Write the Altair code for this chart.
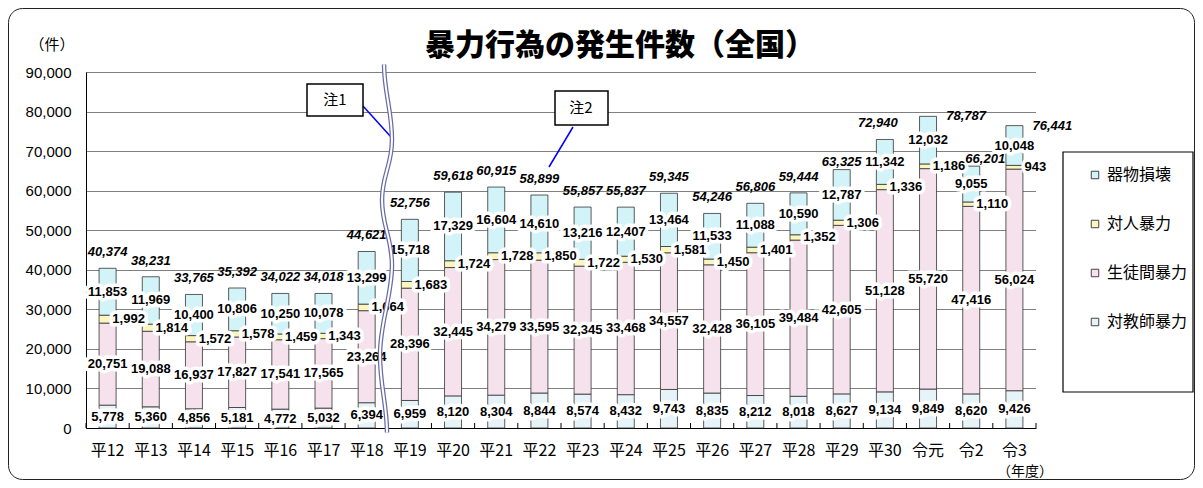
import altair as alt
import pandas as pd

years = ["平12", "平13", "平14", "平15", "平16", "平17", "平18", "平19", "平20", "平21", "平22",
         "平23", "平24", "平25", "平26", "平27", "平28", "平29", "平30", "令元", "令2", "令3"]
categories = ["器物損壊", "対人暴力", "生徒間暴力", "対教師暴力"]
cat_colors = ["#d2f3f8", "#fbf6bd", "#f5e2ec", "#e6f4fa"]
stack_rank = {"対教師暴力": 0, "生徒間暴力": 1, "対人暴力": 2, "器物損壊": 3}

teacher = [5778, 5360, 4856, 5181, 4772, 5032, 6394, 6959, 8120, 8304, 8844,
           8574, 8432, 9743, 8835, 8212, 8018, 8627, 9134, 9849, 8620, 9426]
student = [20751, 19088, 16937, 17827, 17541, 17565, 23264, 28396, 32445, 34279, 33595,
           32345, 33468, 34557, 32428, 36105, 39484, 42605, 51128, 55720, 47416, 56024]
person = [1992, 1814, 1572, 1578, 1459, 1343, 1664, 1683, 1724, 1728, 1850,
          1722, 1530, 1581, 1450, 1401, 1352, 1306, 1336, 1186, 1110, 943]
prop = [11853, 11969, 10400, 10806, 10250, 10078, 13299, 15718, 17329, 16604, 14610,
        13216, 12407, 13464, 11533, 11088, 10590, 12787, 11342, 12032, 9055, 10048]
totals = [40374, 38231, 33765, 35392, 34022, 34018, 44621, 52756, 59618, 60915, 58899,
          55857, 55837, 59345, 54246, 56806, 59444, 63325, 72940, 78787, 66201, 76441]
y_max = 90000

series = {"対教師暴力": teacher, "生徒間暴力": student, "対人暴力": person, "器物損壊": prop}
rows = []
for cat, vals in series.items():
    for yr, v in zip(years, vals):
        rows.append({"year": yr, "cat": cat, "value": v, "ord": stack_rank[cat]})
df = pd.DataFrame(rows)
df_tot = pd.DataFrame({"year": years, "total": totals})

JP = "Noto Sans CJK JP"
NUM = "Liberation Sans, Arial"
W, H = 950, 356

xaxis = alt.Axis(labelAngle=0, labelFont=JP, labelFontSize=16, labelColor="#000",
                 labelPadding=14, ticks=False, domainColor="#000", domainWidth=1,
                 grid=False, title=None)
yaxis = alt.Axis(tickCount=9, labelExpr="format(datum.value, ',')", labelFont="Liberation Sans",
                 labelFontSize=15, labelColor="#000", labelPadding=15, ticks=False,
                 domainColor="#000", domainWidth=1, grid=True, gridColor="#000",
                 gridDash=[1, 1], gridWidth=1, title=None)
xscale = alt.Scale(paddingInner=0, paddingOuter=0)
yscale = alt.Scale(domain=[0, y_max], nice=False)

xenc = alt.X("year:N", sort=years, scale=xscale, axis=xaxis)

bars = alt.Chart(df).mark_bar(size=17, stroke="#333", strokeWidth=0.8).encode(
    x=xenc,
    y=alt.Y("value:Q", stack="zero", scale=yscale, axis=yaxis),
    color=alt.Color("cat:N", scale=alt.Scale(domain=categories, range=cat_colors),
                    legend=alt.Legend(title=None, orient="none", legendX=1001, legendY=95,
                                      symbolType="square", symbolSize=56,
                                      symbolStrokeColor="#444", symbolStrokeWidth=1,
                                      symbolOpacity=1, labelFont=JP, labelFontSize=16,
                                      labelColor="#000", labelOffset=4, rowPadding=33,
                                      padding=0)),
    order=alt.Order("ord:Q", sort="ascending"),
)

xticks = alt.Chart(df_tot).mark_rule(color="#000", strokeWidth=1).encode(
    x=alt.X("year:N", sort=years, bandPosition=0, scale=xscale, axis=xaxis),
    y=alt.value(H - 5), y2=alt.value(H))

stacked = alt.Chart(df).transform_stack(
    stack="value", groupby=["year"], sort=[alt.SortField("ord", order="ascending")],
    as_=["v0", "v1"]).transform_calculate(mid="(datum.v0 + datum.v1) / 2")


def labels(src, yfield, tfield, dx=0, dy=0, italic=False, halo=True):
    enc = dict(x=xenc, y=alt.Y(f"{yfield}:Q", scale=yscale, axis=yaxis),
               text=alt.Text(f"{tfield}:Q", format=","))
    style = dict(font=NUM, fontSize=13, fontWeight="bold", dx=dx, dy=dy,
                 fontStyle="italic" if italic else "normal", baseline="middle")
    out = []
    if halo:
        out.append(src.mark_text(fill="white", stroke="white", strokeWidth=7,
                                 strokeJoin="round", **style).encode(**enc))
    out.append(src.mark_text(color="#000", **style).encode(**enc))
    return out


center_src = stacked.transform_filter("datum.cat != '対人暴力'")
side_src = stacked.transform_filter("datum.cat == '対人暴力'")
lab_layers = labels(center_src, "mid", "value") + labels(side_src, "mid", "value", dx=21)

tot = alt.Chart(df_tot)
tot_main = tot.transform_filter("indexof(['平30','令元','令2','令3'], datum.year) < 0")
tot_layers = (labels(tot_main, "total", "total", dy=-16, italic=True, halo=False)
              + labels(tot.transform_filter("datum.year == '平30'"), "total", "total", dx=-7, dy=-16, italic=True, halo=False)
              + labels(tot.transform_filter("datum.year == '令元' || datum.year == '令3'"), "total", "total", dx=38, dy=0, italic=True, halo=False)
              + labels(tot.transform_filter("datum.year == '令2'"), "total", "total", dx=14, dy=-7, italic=True, halo=False))

ann = alt.Chart(pd.DataFrame({"k": [0]}))
frame = ann.mark_rect(fill="white", fillOpacity=0, stroke="#222", strokeWidth=1, cornerRadius=14).encode(
    x=alt.value(-77.5), x2=alt.value(1108.5), y=alt.value(-63.5), y2=alt.value(407.5))
legend_box = ann.mark_rect(fill="white", fillOpacity=0, stroke="#000", strokeWidth=1.2).encode(
    x=alt.value(977), x2=alt.value(1107), y=alt.value(80), y2=alt.value(320))
note1_box = ann.mark_rect(fill="white", stroke="#000", strokeWidth=1.5).encode(
    x=alt.value(221), x2=alt.value(277), y=alt.value(12), y2=alt.value(44))
note2_box = ann.mark_rect(fill="white", stroke="#000", strokeWidth=1.5).encode(
    x=alt.value(469), x2=alt.value(522), y=alt.value(19), y2=alt.value(53))
note1_line = ann.mark_rule(color="#0000ff", strokeWidth=1.5).encode(
    x=alt.value(277), x2=alt.value(305), y=alt.value(34), y2=alt.value(65))
note2_line = ann.mark_rule(color="#0000ff", strokeWidth=1.5).encode(
    x=alt.value(487), x2=alt.value(463), y=alt.value(55), y2=alt.value(95))
note1_txt = ann.mark_text(text="注1", font=JP, fontSize=15, color="#000").encode(
    x=alt.value(249), y=alt.value(28))
note2_txt = ann.mark_text(text="注2", font=JP, fontSize=15, color="#000").encode(
    x=alt.value(495), y=alt.value(36))
end_tick = ann.mark_rule(color="#000").encode(x=alt.value(W), y=alt.value(H - 5), y2=alt.value(H))

wave_path = ("M-0.016,-1 C-0.016,-0.85 0.027,-0.75 0.027,-0.59 "
             "C0.027,-0.45 -0.027,-0.40 -0.027,-0.264 "
             "C-0.027,-0.12 0.027,-0.06 0.027,0.09 "
             "C0.027,0.26 -0.038,0.40 -0.038,0.579 "
             "C-0.038,0.75 0,0.85 0,1")
wave_outer = ann.mark_point(shape=wave_path, size=368 * 368, filled=False, opacity=1,
                            stroke="#6a6aa8", strokeWidth=4.5).encode(
    x=alt.value(301), y=alt.value(176.5))
wave_inner = ann.mark_point(shape=wave_path, size=368 * 368, filled=False, opacity=1,
                            stroke="#ffffff", strokeWidth=2).encode(
    x=alt.value(301), y=alt.value(176.5))

title = ann.mark_text(text="暴力行為の発生件数（全国）", font=JP, fontSize=30, fontWeight=900,
                      color="#000").encode(x=alt.value(534), y=alt.value(-26))
unit = ann.mark_text(text="（件）", font=JP, fontSize=15, color="#000").encode(
    x=alt.value(-34), y=alt.value(-27))
year_unit = ann.mark_text(text="（年度）", font=JP, fontSize=14, color="#000").encode(
    x=alt.value(939), y=alt.value(400))

chart = alt.layer(
    frame, bars, xticks, end_tick, *lab_layers, *tot_layers,
    note1_line, note2_line, note1_box, note2_box, note1_txt, note2_txt,
    wave_outer, wave_inner, legend_box, title, unit, year_unit,
).properties(
    width=W, height=H,
    autosize=alt.AutoSizeParams(type="none"),
    padding={"left": 78, "top": 64, "right": 159, "bottom": 52},
).configure_view(strokeOpacity=0)

chart.save("out.html", embed_options={"renderer": "svg", "actions": False})
